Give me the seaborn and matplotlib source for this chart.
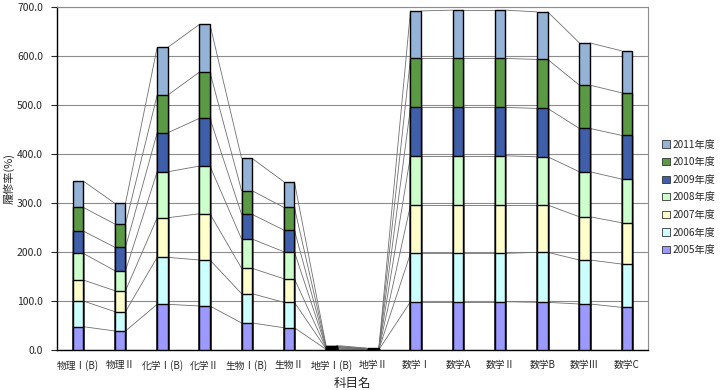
import numpy as np
import pandas as pd
import matplotlib
matplotlib.use("Agg")
import matplotlib.pyplot as plt
import seaborn as sns
from matplotlib.patches import Patch

categories = ["物理Ⅰ(B)", "物理Ⅱ", "化学Ⅰ(B)", "化学Ⅱ", "生物Ⅰ(B)", "生物Ⅱ", "地学Ⅰ(B)", "地学Ⅱ",
              "数学Ⅰ", "数学A", "数学Ⅱ", "数学B", "数学Ⅲ", "数学C"]
years = ["2005年度", "2006年度", "2007年度", "2008年度", "2009年度", "2010年度", "2011年度"]

v2005 = [47.6, 38.8, 93.3, 89.8, 55.1, 45.5, 1.3, 0.5, 98.6, 98.6, 98.6, 97.3, 93.9, 87.1]
v2006 = [52.4, 39.4, 95.9, 93.9, 59.8, 51.8, 1.3, 0.5, 98.7, 98.7, 98.7, 102.1, 89.8, 88.4]
v2007 = [42.9, 42.8, 80.8, 94.5, 51.8, 48.2, 1.3, 0.5, 98.6, 98.6, 98.6, 96.5, 88.3, 84.3]
v2008 = [54.4, 40.8, 93.9, 97.3, 59.8, 55.1, 1.3, 0.5, 100.6, 100.6, 100.6, 98.6, 91.9, 89.2]
v2009 = [45.6, 47.8, 79.6, 97.4, 50.4, 44.3, 1.3, 0.5, 98.8, 98.8, 98.8, 98.8, 88.5, 89.2]
v2010 = [48.3, 47.5, 76.9, 94.4, 48.2, 46.3, 1.3, 0.5, 100.0, 100.0, 100.0, 100.0, 88.4, 86.9]
v2011 = [53.7, 42.3, 97.4, 97.4, 66.1, 52.3, 1.3, 0.5, 97.1, 98.6, 98.6, 97.1, 86.2, 85.7]

series = [v2005, v2006, v2007, v2008, v2009, v2010, v2011]
colors = ["#9C99FF", "#CCFFFF", "#FFFFCC", "#CCFFCC", "#3F5FAA", "#5B9A45", "#95B3D7"]

sns.set_style("white")
plt.rcParams["font.family"] = ["Noto Sans CJK JP", "DejaVu Sans"]

fig = plt.figure(figsize=(7.2, 3.9), dpi=100)
ax = fig.add_axes([0.079, 0.1026, 0.821, 0.879])

cum = np.cumsum(np.array(series), axis=0)
width = 0.25
for k in range(len(series) - 1, -1, -1):
    df = pd.DataFrame({"cat": categories, "val": cum[k]})
    sns.barplot(data=df, x="cat", y="val", order=categories, color=colors[k],
                saturation=1, width=width, edgecolor="black", linewidth=1.0,
                ax=ax, zorder=3)

# series lines
for k in range(len(series)):
    for i in range(len(categories) - 1):
        ax.plot([i + width / 2, i + 1 - width / 2], [cum[k][i], cum[k][i + 1]],
                color="#707070", lw=0.6, zorder=2)

ax.set_xlim(-0.5, len(categories) - 0.5)
ax.set_ylim(0, 700)
ax.set_yticks(np.arange(0, 701, 100))
ax.set_yticklabels([f"{t:.1f}" for t in np.arange(0, 701, 100)], fontsize=7.5)
ax.set_xticks(range(len(categories)))
ax.set_xticklabels(categories, fontsize=7)
ax.yaxis.grid(True, color="#8c8c8c", lw=0.8, zorder=0)
ax.set_axisbelow(True)
ax.tick_params(axis="y", left=True, length=4, width=0.8, pad=6)
ax.tick_params(axis="x", bottom=False, pad=4)
for s in ["left", "bottom"]:
    ax.spines[s].set_color("black")
    ax.spines[s].set_linewidth(1.0)
for s in ["top", "right"]:
    ax.spines[s].set_color("#8c8c8c")
    ax.spines[s].set_linewidth(0.8)
ax.set_xlabel("科目名", fontsize=9, labelpad=4)
ax.set_ylabel("履修率(%)", fontsize=8)
ax.yaxis.set_label_coords(-0.072, 0.5)

handles = [Patch(facecolor=colors[k], edgecolor="#333333", lw=0.6) for k in range(len(series) - 1, -1, -1)]
labels = [years[k] for k in range(len(series) - 1, -1, -1)]
fig.legend(handles, labels, loc="center left", bbox_to_anchor=(0.913, 0.494), frameon=False,
           fontsize=7.3, handlelength=0.7, handleheight=0.7, handletextpad=0.25,
           labelspacing=0.75, borderpad=0)

fig.savefig("out.png", dpi=100)
